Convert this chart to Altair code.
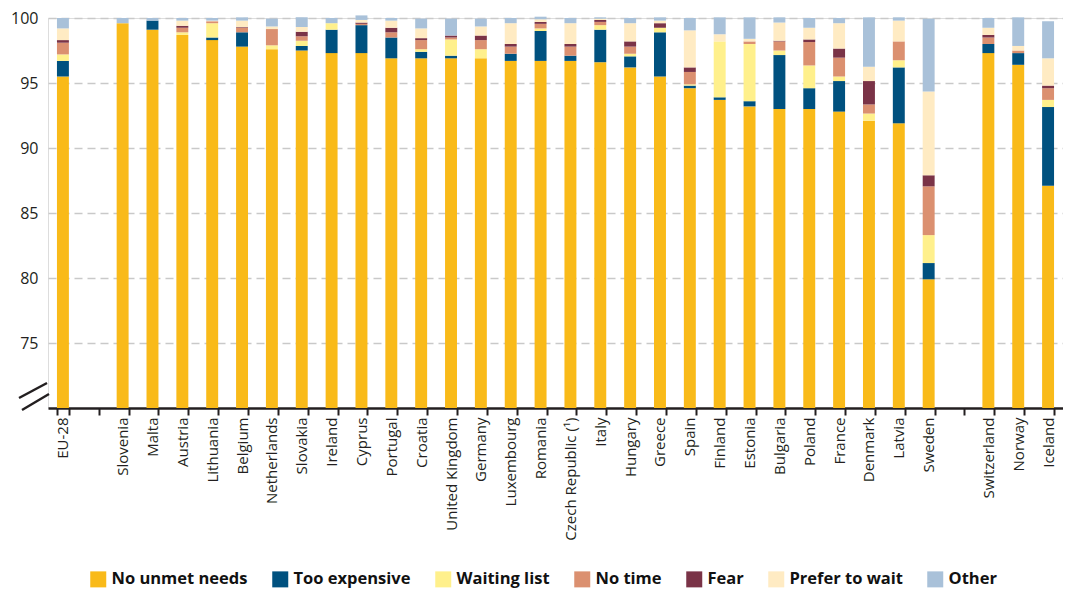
import altair as alt
import pandas as pd

# Category order (two empty spacer bands)
countries = ["EU-28", "_gap1", "Slovenia", "Malta", "Austria", "Lithuania", "Belgium",
             "Netherlands", "Slovakia", "Ireland", "Cyprus", "Portugal", "Croatia",
             "United Kingdom", "Germany", "Luxembourg", "Romania", "Czech Republic (¹)",
             "Italy", "Hungary", "Greece", "Spain", "Finland", "Estonia", "Bulgaria",
             "Poland", "France", "Denmark", "Latvia", "Sweden", "_gap2",
             "Switzerland", "Norway", "Iceland"]

data_countries = [c for c in countries if not c.startswith("_gap")]

reasons = ["No unmet needs", "Too expensive", "Waiting list", "No time", "Fear",
           "Prefer to wait", "Other"]
colors = ["#F9BA19", "#00517F", "#FFF08C", "#DB9070", "#7A3347", "#FFEBC3", "#A9C1D9"]

no_unmet = [95.5, 99.6, 99.1, 98.7, 98.3, 97.8, 97.6, 97.5, 97.3, 97.3, 96.9, 96.9,
            96.9, 96.9, 96.7, 96.7, 96.7, 96.6, 96.2, 95.5, 94.6, 93.7, 93.2, 93.0,
            93.0, 92.8, 92.1, 91.9, 79.9, 97.3, 96.4, 87.1]
too_expensive = [1.2, 0.0, 0.7, 0.0, 0.2, 1.1, 0.0, 0.35, 1.8, 2.15, 1.6, 0.5,
                 0.2, 0.0, 0.55, 2.3, 0.4, 2.5, 0.85, 3.4, 0.2, 0.2, 0.4, 4.15,
                 1.6, 2.35, 0.0, 4.3, 1.25, 0.7, 0.9, 6.05]
waiting_list = [0.5, 0.0, 0.0, 0.2, 1.1, 0.0, 0.3, 0.4, 0.5, 0.0, 0.0, 0.2,
                1.25, 0.7, 0.0, 0.2, 0.0, 0.35, 0.2, 0.35, 0.1, 4.3, 4.4, 0.35,
                1.75, 0.35, 0.55, 0.55, 2.15, 0.0, 0.0, 0.55]
no_time = [0.9, 0.0, 0.0, 0.35, 0.15, 0.35, 1.25, 0.35, 0.0, 0.1, 0.4, 0.7,
           0.15, 0.7, 0.55, 0.35, 0.7, 0.25, 0.55, 0.0, 0.95, 0.0, 0.2, 0.7,
           1.8, 1.45, 0.7, 1.45, 3.75, 0.5, 0.2, 0.9]
fear = [0.2, 0.0, 0.0, 0.15, 0.0, 0.05, 0.0, 0.35, 0.0, 0.1, 0.35, 0.15,
        0.15, 0.35, 0.2, 0.15, 0.2, 0.15, 0.4, 0.35, 0.35, 0.0, 0.0, 0.05,
        0.2, 0.7, 1.8, 0.0, 0.85, 0.2, 0.0, 0.2]
prefer_to_wait = [0.9, 0.0, 0.0, 0.4, 0.05, 0.5, 0.2, 0.35, 0.0, 0.2, 0.55, 0.75,
                  0.0, 0.7, 1.6, 0.2, 1.6, 0.1, 1.4, 0.2, 2.85, 0.55, 0.2, 1.4,
                  0.9, 1.95, 1.1, 1.6, 6.45, 0.55, 0.35, 2.1]
other = [0.8, 0.4, 0.2, 0.2, 0.2, 0.25, 0.6, 0.75, 0.4, 0.35, 0.2, 0.75,
         1.3, 0.6, 0.4, 0.2, 0.4, 0.1, 0.4, 0.25, 0.95, 1.3, 1.65, 0.4,
         0.75, 0.4, 3.8, 0.25, 5.6, 0.75, 2.2, 2.85]

series = [no_unmet, too_expensive, waiting_list, no_time, fear, prefer_to_wait, other]

rows = []
for i, c in enumerate(data_countries):
    start = 0.0
    for name, arr in zip(reasons, series):
        v = arr[i]
        if v > 0:
            rows.append({"country": c, "reason": name, "start": start, "end": start + v})
        start += v
df = pd.DataFrame(rows)

FONT = "Open Sans"
DARK = "#231f20"

bars = alt.Chart(df).transform_calculate(
    lo="max(datum.start, 70)"
).mark_bar().encode(
    x=alt.X("country:N", sort=countries,
            scale=alt.Scale(domain=countries, paddingInner=0.6, paddingOuter=0.3),
            axis=alt.Axis(title=None, labelAngle=-90,
                          labelExpr="indexof(datum.label, '_gap') == 0 ? '' : datum.label",
                          tickBand="extent", domainColor=DARK, domainWidth=2.5,
                          tickColor=DARK, tickWidth=2, tickSize=7, labelPadding=2,
                          labelFont=FONT, labelFontSize=15, labelColor=DARK, grid=False)),
    y=alt.Y("lo:Q", scale=alt.Scale(domain=[70, 100], nice=False, zero=False),
            axis=alt.Axis(title=None, values=[75, 80, 85, 90, 95, 100], domain=False,
                          ticks=False, labelPadding=10, labelFont=FONT, labelFontSize=16,
                          labelColor=DARK, gridDash=[8, 5], gridColor="#c9c9c9",
                          gridWidth=1.5)),
    y2="end:Q",
    color=alt.Color("reason:N", sort=reasons,
                    scale=alt.Scale(domain=reasons, range=colors),
                    legend=alt.Legend(title=None, orient="none", legendX=42, legendY=553,
                                      direction="horizontal", columns=7,
                                      symbolType="square", symbolSize=256,
                                      symbolStrokeWidth=0, symbolOpacity=1,
                                      labelFont=FONT, labelFontSize=16.5,
                                      labelFontWeight="bold", labelColor="#111111",
                                      labelOffset=5, columnPadding=24, padding=0)),
)

brk = pd.DataFrame({"k": [0]})
break1 = alt.Chart(brk).mark_rule(color=DARK, strokeWidth=2.5).encode(
    x=alt.value(-29), x2=alt.value(-1), y=alt.value(380), y2=alt.value(365))
break2 = alt.Chart(brk).mark_rule(color=DARK, strokeWidth=2.5).encode(
    x=alt.value(-26), x2=alt.value(1), y=alt.value(392), y2=alt.value(376))

chart = alt.layer(bars, break1, break2).properties(
    width=1015, height=390,
    padding={"left": 40, "top": 10, "right": 0, "bottom": 182},
    autosize=alt.AutoSizeParams(type="none"),
).configure_view(stroke=None).configure(background="white")

chart.save("out.html", embed_options={"renderer": "svg", "actions": False})
